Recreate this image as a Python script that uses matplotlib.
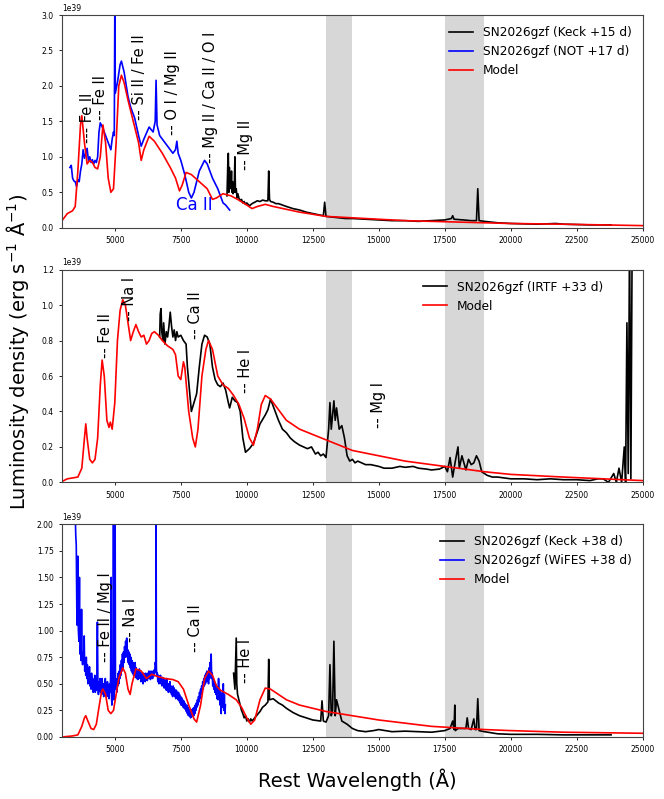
import numpy as np
import matplotlib
matplotlib.use("Agg")
import matplotlib.pyplot as plt

# flux values in units of 1e39 erg/s/A
# --- top panel (+15/+17 d)
top_model_w = [3000, 3200, 3400, 3500, 3600, 3700, 3750, 3850, 3950, 4050, 4150, 4250, 4350, 4450, 4550,
               4650, 4750, 4850, 4950, 5050, 5150, 5250, 5350, 5500, 5700, 5900, 6000, 6100, 6300, 6500,
               6800, 7100, 7300, 7450, 7550, 7700, 7900, 8200, 8500, 8700, 8850, 9100, 9400, 9700, 10000,
               10200, 10400, 10700, 11000, 11500, 12000, 12500, 13000, 14000, 15000, 16000, 17000, 18000,
               19000, 20000, 22000, 25000]
top_model_f = [0.1, 0.2, 0.24, 0.3, 0.8, 1.45, 1.58, 1.2, 0.9, 0.95, 0.92, 0.85, 0.83, 1.0, 1.45,
               1.2, 0.7, 0.5, 0.55, 1.2, 2.0, 2.15, 2.05, 1.8, 1.5, 1.2, 0.95, 1.1, 1.29, 1.22,
               1.05, 0.85, 0.7, 0.52, 0.6, 0.78, 0.75, 0.65, 0.55, 0.4, 0.42, 0.48, 0.45, 0.39, 0.32,
               0.27, 0.3, 0.33, 0.3, 0.26, 0.22, 0.19, 0.16, 0.14, 0.12, 0.1, 0.09, 0.08,
               0.07, 0.06, 0.05, 0.03]

top_not_w = [3300, 3350, 3400, 3450, 3500, 3550, 3600, 3650, 3700, 3750, 3800, 3850, 3900, 3950, 4000,
             4050, 4100, 4150, 4200, 4250, 4300, 4350, 4400, 4450, 4550, 4650, 4750, 4850, 4900, 4950,
             4980, 5000, 5020, 5100, 5200, 5250, 5350, 5500, 5600, 5750, 5900, 6000, 6100, 6300, 6450,
             6530, 6563, 6600, 6700, 6900, 7100, 7200, 7300, 7350, 7400, 7500, 7650, 7800, 7900, 8000,
             8200, 8400, 8500, 8700, 8900, 9000, 9100, 9200, 9350]
top_not_f = [0.85, 0.88, 0.7, 0.66, 0.65, 0.58, 0.68, 0.65, 0.8, 0.9, 1.1, 0.98, 1.05, 1.12, 0.95,
             1.0, 0.92, 0.96, 0.9, 0.95, 0.92, 1.0, 1.35, 1.48, 1.4, 1.3, 1.2, 1.1, 1.25, 1.35,
             1.3, 3.1, 1.9, 2.05, 2.3, 2.35, 2.2, 1.85, 1.7, 1.55, 1.3, 1.15, 1.25, 1.42, 1.35,
             1.5, 2.08, 1.45, 1.3, 1.2, 1.1, 1.05, 1.1, 1.22, 1.05, 0.95, 0.75, 0.5, 0.42, 0.5,
             0.8, 0.95, 0.9, 0.7, 0.55, 0.45, 0.35, 0.32, 0.25]

top_keck_w = [9250, 9280, 9300, 9320, 9340, 9360, 9380, 9400, 9420, 9440, 9460, 9480, 9500, 9520, 9550,
              9570, 9600, 9630, 9660, 9700, 9750, 9800, 9850, 9900, 9950, 10000, 10100, 10200, 10300,
              10400, 10500, 10600, 10700, 10800, 10830, 10860, 10900, 11000, 11100, 11200, 11350, 11500,
              11750, 12000, 12250, 12500, 12750, 12900, 12950, 13000, 13250, 13500, 13750, 14000, 14500,
              15000, 15500, 16000, 16500, 17000, 17500, 17750, 17800, 17850, 18200, 18500, 18700, 18750,
              18800, 19000, 19500, 20000, 21000, 21700, 22000, 23000, 23800]
top_keck_f = [0.45, 0.9, 1.05, 0.5, 0.85, 0.55, 0.75, 0.6, 0.8, 0.5, 0.65, 0.48, 0.62, 0.5, 1.0,
              0.5, 0.55, 0.42, 0.48, 0.42, 0.38, 0.4, 0.35, 0.37, 0.33, 0.35, 0.31, 0.34, 0.36,
              0.38, 0.37, 0.39, 0.38, 0.38, 0.8, 0.4, 0.37, 0.36, 0.34, 0.34, 0.32, 0.3,
              0.27, 0.25, 0.22, 0.2, 0.18, 0.17, 0.36, 0.16, 0.15, 0.14, 0.13, 0.13, 0.12,
              0.11, 0.1, 0.1, 0.09, 0.1, 0.11, 0.13, 0.17, 0.12, 0.11, 0.1, 0.1, 0.55,
              0.1, 0.09, 0.07, 0.06, 0.05, 0.06, 0.05, 0.04, 0.04]

# --- middle panel (+33 d)
mid_model_w = [3000, 3200, 3400, 3600, 3750, 3850, 3900, 3950, 4050, 4150, 4250, 4350, 4450, 4520, 4600,
               4700, 4780, 4830, 4900, 5000, 5100, 5200, 5300, 5400, 5500, 5600, 5700, 5800, 5900, 6000,
               6100, 6200, 6300, 6400, 6500, 6650, 6800, 7000, 7200, 7300, 7400, 7500, 7600, 7650, 7800,
               7950, 8050, 8150, 8300, 8450, 8550, 8700, 8900, 9100, 9300, 9500, 9700, 9900, 10100,
               10250, 10400, 10550, 10700, 10900, 11200, 11500, 12000, 12500, 13000, 13500, 14000, 15000,
               16000, 17000, 18000, 19000, 20000, 22000, 25000]
mid_model_f = [0.005, 0.02, 0.025, 0.03, 0.08, 0.25, 0.33, 0.25, 0.13, 0.11, 0.13, 0.25, 0.55, 0.69, 0.6,
               0.35, 0.31, 0.34, 0.3, 0.45, 0.8, 0.97, 1.03, 1.0, 0.9, 0.8, 0.85, 0.89, 0.85, 0.82,
               0.83, 0.78, 0.8, 0.84, 0.85, 0.83, 0.8, 0.77, 0.75, 0.72, 0.6, 0.58, 0.68, 0.65, 0.4,
               0.25, 0.2, 0.3, 0.6, 0.75, 0.8, 0.75, 0.6, 0.55, 0.53, 0.49, 0.44, 0.36, 0.25,
               0.21, 0.3, 0.44, 0.49, 0.47, 0.41, 0.35, 0.3, 0.27, 0.24, 0.21, 0.18, 0.15,
               0.12, 0.1, 0.08, 0.06, 0.045, 0.03, 0.01]

mid_irtf_w = [6700, 6720, 6750, 6780, 6820, 6850, 6900, 6950, 7000, 7050, 7100, 7150, 7200, 7250, 7300,
              7350, 7400, 7500, 7600, 7700, 7750, 7850, 7900, 8000, 8100, 8200, 8300, 8400, 8500, 8600,
              8700, 8800, 8900, 9000, 9100, 9200, 9300, 9350, 9450, 9550, 9650, 9750, 9850, 9950, 10100,
              10250, 10500, 10700, 10800, 10900, 11000, 11200, 11350, 11500, 11650, 11800, 12000, 12150,
              12300, 12450, 12600, 12700, 12800, 12900, 13000, 13100, 13150, 13200, 13300, 13350, 13400,
              13500, 13600, 13700, 13800, 13900, 14000, 14100, 14200, 14350, 14500, 14700, 15000, 15200,
              15500, 15800, 16000, 16300, 16500, 16800, 17000, 17300, 17500, 17600, 17700, 17800, 17900,
              18000, 18050, 18150, 18300, 18400, 18500, 18600, 18700, 18800, 18900, 19100, 19300, 19500,
              20000, 20500, 21000, 21500, 22000, 22500, 23000, 23300, 23500, 23700, 23900, 24000, 24100,
              24200, 24300, 24350, 24400, 24450, 24500, 24550, 24600]
mid_irtf_f = [0.82, 0.95, 0.98, 0.85, 0.8, 0.9, 0.78, 0.85, 0.82, 0.88, 0.96, 0.88, 0.82, 0.86, 0.8,
              0.85, 0.82, 0.83, 0.8, 0.78, 0.65, 0.48, 0.4, 0.45, 0.5, 0.65, 0.78, 0.83, 0.82, 0.78,
              0.65, 0.58, 0.55, 0.54, 0.56, 0.52, 0.45, 0.42, 0.48, 0.46, 0.45, 0.4, 0.25, 0.17, 0.19,
              0.22, 0.33, 0.38, 0.41, 0.47, 0.43, 0.35, 0.3, 0.28, 0.25, 0.23, 0.21, 0.2,
              0.19, 0.2, 0.16, 0.17, 0.15, 0.16, 0.14, 0.3, 0.45, 0.3, 0.46, 0.35, 0.42,
              0.3, 0.32, 0.25, 0.15, 0.12, 0.13, 0.11, 0.12, 0.11, 0.1, 0.1, 0.09, 0.08,
              0.08, 0.09, 0.085, 0.09, 0.08, 0.075, 0.07, 0.075, 0.09, 0.06, 0.14, 0.03, 0.12,
              0.2, 0.08, 0.15, 0.07, 0.13, 0.1, 0.11, 0.15, 0.12, 0.06, 0.04, 0.03, 0.03,
              0.02, 0.02, 0.015, 0.02, 0.015, 0.015, 0.01, 0.02, 0.02, 0.0, 0.05, 0.0, 0.08,
              0.0, 0.2, 0.0, 0.9, 0.05, 1.4, 0.02, 1.4]

# --- bottom panel (+38 d)
bot_model_w = [3000, 3400, 3600, 3750, 3850, 3900, 3980, 4100, 4200, 4300, 4400, 4500, 4550, 4650, 4750,
               4850, 4950, 5050, 5150, 5300, 5400, 5500, 5580, 5650, 5800, 6000, 6200, 6400, 6600, 6900,
               7200, 7400, 7600, 7800, 8000, 8100, 8250, 8400, 8550, 8700, 8850, 9000, 9300, 9600, 9800,
               10000, 10150, 10300, 10500, 10700, 10900, 11200, 11500, 12000, 12500, 13000, 14000, 15000,
               16000, 17000, 18000, 19000, 20000, 22000, 25000]
bot_model_f = [0.0, 0.01, 0.02, 0.1, 0.18, 0.2, 0.15, 0.08, 0.07, 0.12, 0.28, 0.43, 0.45, 0.4, 0.25,
               0.22, 0.25, 0.4, 0.55, 0.65, 0.6, 0.45, 0.4, 0.5, 0.64, 0.62, 0.55, 0.59, 0.57, 0.55,
               0.54, 0.52, 0.45, 0.3, 0.17, 0.14, 0.3, 0.55, 0.62, 0.58, 0.48, 0.44, 0.4, 0.35, 0.28,
               0.18, 0.12, 0.16, 0.35, 0.46, 0.45, 0.4, 0.35, 0.3, 0.27, 0.24, 0.2, 0.16,
               0.13, 0.1, 0.085, 0.07, 0.06, 0.045, 0.035]

bot_wifes_w = [3500, 3520, 3540, 3560, 3580, 3600, 3620, 3640, 3660, 3680, 3700, 3720, 3740, 3760, 3780,
               3800, 3820, 3840, 3860, 3880, 3900, 3920, 3940, 3960, 3980, 4000, 4020, 4040, 4060, 4080,
               4100, 4120, 4140, 4160, 4180, 4200, 4220, 4240, 4260, 4280, 4300, 4320, 4340, 4360, 4380,
               4400, 4420, 4440, 4460, 4480, 4500, 4520, 4540, 4560, 4580, 4600, 4620, 4640, 4660, 4680,
               4700, 4720, 4740, 4760, 4780, 4800, 4820, 4840, 4860, 4870, 4890, 4910, 4930, 4950, 4965,
               4985, 5000, 5012, 5025, 5050, 5070, 5090, 5110, 5130, 5150, 5170, 5190, 5210, 5230, 5250,
               5270, 5290, 5310, 5330, 5350, 5370, 5390, 5410, 5430, 5450, 5470, 5490, 5510, 5530, 5550,
               5570, 5590, 5610, 5630, 5650, 5670, 5690, 5710, 5730, 5750, 5770, 5790, 5810, 5830, 5850,
               5870, 5890, 5910, 5930, 5950, 5970, 5990, 6010, 6030, 6050, 6070, 6090, 6110, 6130, 6150,
               6170, 6190, 6210, 6230, 6250, 6270, 6290, 6310, 6330, 6350, 6370, 6390, 6410, 6430, 6450,
               6470, 6490, 6510, 6530, 6550, 6563, 6575, 6590, 6610, 6630, 6650, 6670, 6690, 6710, 6730,
               6750, 6770, 6790, 6810, 6830, 6850, 6870, 6890, 6910, 6930, 6950, 6970, 6990, 7010, 7030,
               7050, 7070, 7090, 7110, 7130, 7150, 7170, 7190, 7210, 7230, 7250, 7270, 7290, 7310, 7330,
               7350, 7370, 7390, 7410, 7430, 7450, 7470, 7490, 7510, 7530, 7550, 7570, 7590, 7610, 7630,
               7650, 7670, 7690, 7710, 7730, 7750, 7770, 7790, 7810, 7830, 7850, 7870, 7890, 7910, 7930,
               7950, 7970, 7990, 8010, 8030, 8050, 8070, 8090, 8110, 8130, 8150, 8170, 8190, 8210, 8230,
               8250, 8270, 8290, 8310, 8330, 8350, 8370, 8390, 8410, 8430, 8450, 8470, 8490, 8510, 8530,
               8550, 8570, 8590, 8610, 8630, 8650, 8670, 8690, 8710, 8730, 8750, 8770, 8790, 8810, 8830,
               8850, 8870, 8890, 8910, 8930, 8950, 8970, 8990, 9010, 9030, 9050, 9070, 9090, 9110, 9130,
               9150, 9170, 9190]
bot_wifes_f = [2.1, 1.9, 1.8, 1.2, 1.05, 1.7, 1.0, 0.9, 1.5, 0.78, 0.85, 0.72, 1.2, 0.75, 0.68,
               0.8, 0.7, 0.95, 0.62, 0.72, 0.58, 0.75, 0.55, 0.68, 0.5, 0.62, 0.52, 0.66, 0.48, 0.58,
               0.45, 0.6, 0.5, 0.55, 0.42, 0.52, 0.45, 0.58, 0.42, 0.5, 0.44, 0.55, 1.08, 0.48, 0.4,
               0.52, 0.44, 0.55, 0.42, 0.5, 0.4, 0.55, 0.45, 0.5, 0.38, 0.48, 0.42, 0.55, 0.4, 0.5,
               0.38, 0.52, 0.42, 0.48, 0.36, 0.5, 0.42, 0.55, 1.5, 0.4, 0.3, 0.5, 0.45, 2.1, 0.35,
               0.5, 2.1, 2.1, 0.45, 0.52, 0.42, 0.55, 0.48, 0.6, 0.5, 0.62, 0.55, 0.68, 0.58, 0.72,
               0.62, 0.78, 0.65, 0.8, 0.7, 0.85, 0.75, 0.9, 0.78, 0.93, 0.75, 0.82, 0.7, 0.8, 0.68,
               0.78, 0.65, 0.75, 0.62, 0.72, 0.6, 0.7, 0.58, 0.68, 0.6, 0.7, 0.56, 0.65, 0.55, 0.63,
               0.54, 0.62, 0.55, 0.64, 0.56, 0.6, 0.52, 0.6, 0.53, 0.58, 0.5, 0.6, 0.54, 0.58, 0.52,
               0.6, 0.54, 0.58, 0.53, 0.6, 0.55, 0.62, 0.56, 0.6, 0.54, 0.62, 0.56, 0.6, 0.55, 0.62,
               0.57, 0.63, 0.6, 0.7, 0.68, 2.1, 0.65, 0.58, 0.6, 0.52, 0.58, 0.5, 0.56, 0.52, 0.58,
               0.5, 0.55, 0.48, 0.56, 0.5, 0.55, 0.46, 0.54, 0.48, 0.52, 0.44, 0.55, 0.46, 0.5, 0.42,
               0.5, 0.44, 0.52, 0.42, 0.48, 0.4, 0.46, 0.38, 0.48, 0.42, 0.46, 0.38, 0.44, 0.36, 0.44,
               0.38, 0.42, 0.35, 0.42, 0.34, 0.4, 0.32, 0.38, 0.3, 0.37, 0.3, 0.35, 0.28, 0.34, 0.27,
               0.32, 0.26, 0.3, 0.24, 0.3, 0.22, 0.28, 0.2, 0.26, 0.2, 0.25, 0.18, 0.24, 0.19, 0.26,
               0.2, 0.27, 0.2, 0.28, 0.22, 0.3, 0.25, 0.32, 0.28, 0.35, 0.3, 0.38, 0.33, 0.42, 0.36,
               0.45, 0.4, 0.48, 0.42, 0.52, 0.45, 0.55, 0.48, 0.58, 0.5, 0.6, 0.52, 0.62, 0.55, 0.6,
               0.5, 0.65, 0.55, 0.7, 0.6, 0.78, 0.55, 0.6, 0.48, 0.55, 0.45, 0.52, 0.42, 0.5, 0.4,
               0.48, 0.36, 0.45, 0.35, 0.55, 0.38, 0.45, 0.3, 0.42, 0.22, 0.4, 0.28, 0.35, 0.5, 0.25,
               0.4, 0.22, 0.3]

bot_keck_w = [9500, 9550, 9600, 9620, 9650, 9700, 9750, 9800, 9850, 9900, 9950, 10000, 10050, 10100, 10150,
              10200, 10300, 10400, 10500, 10600, 10700, 10800, 10830, 10860, 11000, 11100, 11200, 11350,
              11500, 11750, 12000, 12250, 12500, 12800, 12850, 12900, 13000, 13100, 13150, 13200, 13250,
              13300, 13350, 13400, 13500, 13600, 13800, 14000, 14200, 14500, 14800, 15000, 15250, 15500,
              16000, 16500, 17000, 17500, 17700, 17800, 17850, 17880, 17900, 18000, 18200, 18300, 18350,
              18400, 18500, 18600, 18650, 18700, 18750, 18800, 19000, 19500, 20000, 21000, 22000, 23000,
              23800]
bot_keck_f = [0.6, 0.45, 0.93, 0.5, 0.4, 0.35, 0.3, 0.25, 0.22, 0.18, 0.2, 0.15, 0.17, 0.14, 0.17,
              0.15, 0.18, 0.21, 0.24, 0.28, 0.3, 0.33, 0.73, 0.35, 0.36, 0.34, 0.32, 0.3,
              0.27, 0.23, 0.2, 0.18, 0.16, 0.15, 0.34, 0.15, 0.14, 0.2, 0.68, 0.2, 0.25,
              0.9, 0.2, 0.35, 0.25, 0.15, 0.12, 0.08, 0.06, 0.05, 0.06, 0.07, 0.06, 0.05,
              0.055, 0.05, 0.045, 0.06, 0.08, 0.15, 0.07, 0.3, 0.06, 0.08, 0.08, 0.08, 0.18,
              0.08, 0.07, 0.17, 0.07, 0.07, 0.36, 0.06, 0.05, 0.03, 0.025, 0.025, 0.02, 0.02,
              0.02]

telluric = [(13000, 14000), (17500, 19000)]

top_labels = [(3950, 1.2, "--- Fe II"), (4470, 1.52, "-- Fe II"), (5950, 1.52, "-- Si II / Fe II"),
              (7180, 1.31, "-- O I / Mg II"), (8640, 0.91, "-- Mg II / Ca II / O I"), (9960, 0.82, "-- Mg II")]
mid_labels = [(4660, 0.70, "-- Fe II"), (5540, 0.91, "-- Na I"), (8070, 0.806, "-- Ca II"),
              (9960, 0.505, "-- He I"), (14985, 0.308, "-- Mg I")]
bot_labels = [(4660, 0.707, "-- Fe II / Mg I"), (5600, 0.895, "-- Na I"), (8070, 0.80, "-- Ca II"),
              (9960, 0.51, "-- He I")]

SCALE = 1e39


def draw_panel(ax, spectra, model, labels, ymax, legend_x=1.0):
    for lo, hi in telluric:
        ax.axvspan(lo, hi, color="lightgrey", alpha=0.9, lw=0, zorder=0)
    for w, f, color, label in spectra:
        ax.plot(w, np.array(f) * SCALE, color=color, lw=1.2, label=label)
    ax.plot(model[0], np.array(model[1]) * SCALE, color="red", lw=1.2, label="Model")
    for x, y, text in labels:
        ax.text(x, y * SCALE, text, rotation=90, ha="center", va="bottom", fontsize=10.5)
    ax.set_xlim(3000, 25000)
    ax.set_ylim(0, ymax * SCALE)
    ax.tick_params(labelsize=5.5, length=2.5, width=0.6)
    ax.yaxis.get_offset_text().set_fontsize(5.5)
    for sp in ax.spines.values():
        sp.set_linewidth(0.8)
        sp.set_color("#444444")
    ax.legend(loc="upper right", bbox_to_anchor=(legend_x, 1.0), frameon=False, fontsize=8.7)


def main():
    fig, axes = plt.subplots(3, 1, figsize=(6.64, 7.99), dpi=100)
    fig.subplots_adjust(left=0.0934, right=0.968, bottom=0.0776, top=0.9812, hspace=0.197)

    draw_panel(axes[0],
               [(top_keck_w, top_keck_f, "black", "SN2026gzf (Keck +15 d)"),
                (top_not_w, top_not_f, "blue", "SN2026gzf (NOT +17 d)")],
               (top_model_w, top_model_f), top_labels, 3.0)
    axes[0].text(7300, 0.2 * SCALE, "Ca II", color="blue", fontsize=12, ha="left", va="bottom")

    draw_panel(axes[1],
               [(mid_irtf_w, mid_irtf_f, "black", "SN2026gzf (IRTF +33 d)")],
               (mid_model_w, mid_model_f), mid_labels, 1.2, legend_x=0.95)

    draw_panel(axes[2],
               [(bot_keck_w, bot_keck_f, "black", "SN2026gzf (Keck +38 d)"),
                (bot_wifes_w, bot_wifes_f, "blue", "SN2026gzf (WiFES +38 d)")],
               (bot_model_w, bot_model_f), bot_labels, 2.0)

    fig.text(0.538, 0.024, "Rest Wavelength (Å)", ha="center", va="center", fontsize=14)
    fig.text(0.027, 0.56, "Luminosity density (erg s$^{-1}$ Å$^{-1}$)", rotation=90,
             ha="center", va="center", fontsize=14)
    fig.savefig("out.png", dpi=100)


if __name__ == "__main__":
    main()
